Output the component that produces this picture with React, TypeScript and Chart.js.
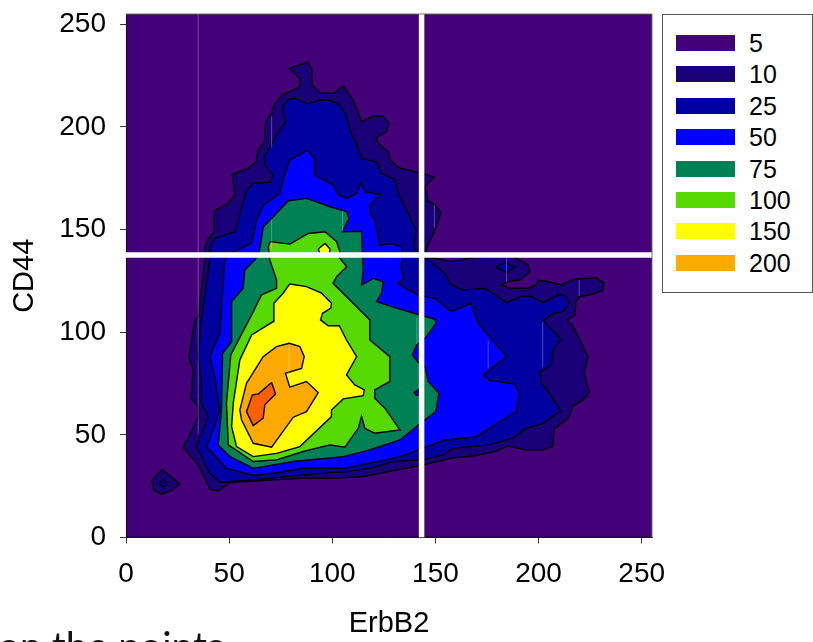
import React, { useEffect, useRef } from "react";
import { Chart, registerables } from "chart.js";

Chart.register(...registerables);

type P = [number, number];

const legendLevels = ["5", "10", "25", "50", "75", "100", "150", "200"];
const levelColors = ["#440078", "#1a0078", "#0000a0", "#0000ff", "#008055", "#55d900", "#ffff00", "#ffaa00"];
const peakColor = "#ff5f00";
const axisTicks = [0, 50, 100, 150, 200, 250];
const axisMax = 255;
const splitX = 143.3;
const splitY = 137.6;

const frame: P[] = [[0, 0], [axisMax, 0], [axisMax, axisMax], [0, axisMax]];

const contour10: P[] = [
  [79.2, 228.5], [88.1, 231.4], [90, 228.5], [90.3, 220.4], [94, 216.6], [100.5, 216.3], [105.3, 219.9], [110.2, 213.1],
  [114.2, 202.5], [119.9, 205.4], [124.7, 205.4], [127.5, 201.7], [126.3, 197.6], [121.5, 194.9], [122.3, 192], [127.1, 187.9],
  [128.3, 183.8], [132, 180.3], [141.7, 177.7], [149.4, 175.7], [144.9, 170.8], [146.5, 164.3], [149.8, 161.9], [152.7, 158.2],
  [149.8, 149.7], [145.4, 140], [145.4, 136.8], [157.8, 134.4], [169.1, 136.5], [188.5, 136.5], [195, 132.8], [195.8, 129.5],
  [191, 125.4], [184.5, 124.6], [182.1, 123], [186.1, 121.4], [195, 121.4], [199, 123], [199.8, 125.4], [204.7, 124.6],
  [211.2, 123], [216.8, 125.8], [228.1, 126.6], [231.7, 123.8], [231.3, 120.6], [226.5, 118.6], [220, 117.3], [218.1, 114.9],
  [217.6, 108.4], [214.1, 106], [216.8, 102.7], [224.1, 88.1], [222.1, 80], [224.6, 70.6], [221.7, 67], [216.8, 64.2],
  [214.4, 58.1], [207.6, 52.9], [206.8, 44.3], [202.3, 42.7], [193.4, 42.7], [185.3, 44.6], [178.8, 41.8], [168.3, 39.7],
  [157, 38.6], [153.8, 37.5], [144.1, 35.4], [115, 29.7], [102.1, 28.9], [85.9, 28.9], [66.5, 27.7], [50.4, 26.8],
  [44.7, 22.7], [40.7, 23.5], [35, 35.4], [27.7, 44], [32.6, 53.2], [35, 58.9], [35, 63.8], [31.5, 67.8],
  [32.6, 81.6], [30.5, 88.1], [33.4, 106], [35, 107.6], [38.2, 135.2], [38.3, 141.6], [39.9, 145.7], [42.8, 149],
  [42.8, 159.2], [49.1, 162.4], [52.8, 166.8], [51.5, 176.9], [59.3, 179.8], [63, 183], [64.1, 188.7], [67.1, 192.8],
  [67.7, 202.5], [70.6, 206.6], [72.2, 211.4], [75.5, 215.5], [81.1, 217.9], [84, 219.5], [84.3, 223.6],
];
const blob10: P[] = [[12.7, 28], [17.6, 33.2], [26.1, 26.1], [22.1, 22.9], [17.2, 21.1], [13.5, 23.2]];

const contour25: P[] = [
  [76.3, 210.6], [78.7, 213.5], [81.9, 213.9], [87.9, 211.1], [94, 213], [98.9, 213], [103.7, 210.6], [107, 205],
  [109.1, 196.8], [111.8, 192], [114.2, 184.6], [121.5, 183], [123.9, 177.3], [130.4, 174.4], [132, 167.6], [136.8, 157.9],
  [140.6, 149.7], [139.6, 141.6], [142, 138], [145.4, 136], [153.8, 129.5], [157.8, 123], [163.5, 120.6], [174, 121.4],
  [184.5, 114.4], [192.6, 117.7], [196.6, 117.3], [202.3, 114.4], [210.3, 118.6], [213.6, 117.3], [214.7, 114.1], [212, 110],
  [207.1, 109.2], [202.3, 105.6], [210.8, 96.7], [207.1, 91.4], [206.3, 84], [200.7, 80.8], [201.5, 75.1], [203.9, 72.2],
  [210.8, 61.7], [202.3, 55.6], [193.4, 52.9], [188.5, 48.8], [176.4, 45.1], [158.6, 43.5], [153.8, 40.2], [144.1, 37.8],
  [129.5, 37], [118.2, 33.7], [106.9, 32.1], [85.9, 30.5], [61.7, 28], [45.5, 26.9], [40.7, 31.3], [34.2, 44.3],
  [39.9, 58.9], [36.6, 65.4], [36.6, 75.1], [35, 88.1], [36.6, 107.6], [40.7, 135.2], [40.7, 141.6], [43.1, 145.7],
  [52.8, 148.9], [55.3, 157.9], [58.5, 169.2], [61.7, 172.5], [69.8, 173], [71.4, 176.5], [67.4, 181.4], [67.1, 185.4],
  [74.6, 198.4], [77.4, 202.5], [75.9, 207.4],
];
const blob25Left: P[] = [[16.1, 26.4], [18.1, 28.4], [20.2, 26.1], [18.1, 24.5]];
const blob25Right: P[] = [[179.3, 131.6], [183.7, 133.9], [188.5, 131.6], [184.5, 129]];

const contour50: P[] = [
  [77.1, 177.3], [79.5, 183.8], [87.9, 188.7], [91.3, 184.6], [91.6, 176.5], [100.5, 171.7], [102.9, 166.8], [107, 165.2],
  [111.8, 167.6], [113.9, 172.8], [115.8, 168.4], [123.1, 167.1], [118.3, 161.9], [118.3, 157.9], [120.7, 154.6], [123.1, 142.4],
  [128.8, 143.2], [133.6, 141.6], [134.4, 136.8], [133.3, 131.9], [134.4, 126.2], [131.9, 123.8], [136.8, 120.6], [142.5, 117.7],
  [149.8, 116.5], [157.8, 110], [167.2, 114.1], [170.8, 104.3], [184.5, 88.1], [173.2, 79.2], [176.4, 76.4], [188.5, 74.8],
  [190.6, 70.3], [189.3, 61.3], [181.3, 56.5], [170, 49.1], [154.6, 47.5], [144.1, 43.5], [132.8, 39.4], [118.2, 36.2],
  [105.3, 33.7], [85.9, 33.7], [71.4, 31.3], [61.7, 30.2], [48.7, 33.7], [39.1, 44.3], [42.3, 52.4], [45.5, 62.1],
  [43.1, 78.4], [40.7, 88.1], [45.5, 99.5], [47.1, 123.8], [47.9, 135.2], [52, 139.2], [60.9, 143.2], [63.3, 154.6],
  [66.6, 161.9], [74.6, 167.6],
];
const hole50: P[] = [[139.6, 70.7], [141.7, 71.9], [142.5, 69.1], [140.6, 69.4]];

const contour75: P[] = [
  [78.7, 164], [87.6, 165.2], [98.9, 161.1], [107, 158.7], [108.1, 155.4], [104.9, 148.9], [114.2, 149.2], [115, 130.3],
  [114.2, 123], [119.9, 126.2], [124.7, 124.6], [123.9, 119], [121.4, 114.9], [131.1, 111.7], [142.4, 108.4], [149.8, 106.3],
  [150.2, 104.3], [145, 97], [140.9, 93.8], [138.8, 88.9], [141.7, 85.2], [144.9, 83.2], [146.5, 76], [151.7, 70.3],
  [150.2, 61.3], [144.9, 57.3], [132.8, 47.5], [118.2, 42.7], [105.3, 39.4], [81.1, 37], [61.7, 33.7], [50.4, 39.4],
  [44.7, 45.1], [46.3, 62.1], [46.8, 89.7], [51.2, 95.4], [51.2, 114.9], [56.8, 121.4], [57.6, 130.3], [62.5, 135.2],
  [64.6, 139.2], [66.6, 151.4], [70.6, 155.4],
];

const contour100: P[] = [
  [69.8, 144.1], [79.5, 142.9], [88.4, 148.1], [96.5, 148.9], [102.1, 144.1], [103.7, 139.2], [103.7, 136], [107, 131.9],
  [102.1, 127], [100.4, 123.8], [118.2, 106], [118.2, 96.2], [127.9, 88.1], [127.9, 76], [120.6, 71.9], [120.6, 67.8],
  [125.5, 63], [132.8, 52.4], [120.6, 50.8], [115.8, 53.2], [114.2, 58.9], [112.6, 53.2], [106.1, 44], [98.8, 45.1],
  [85.9, 41.9], [73, 37.8], [61.7, 37], [49.6, 45.1], [48.7, 65.4], [50.8, 88.9], [60.9, 108.4], [65.7, 118.2],
  [73, 121.4], [73, 125.5], [69.7, 135.2], [69, 141.6],
];
const blob150: P[] = [[93.2, 140.5], [96.5, 143.2], [98.9, 140.5], [98.6, 138], [94, 138.4]];

const contour150: P[] = [
  [79.4, 123.5], [87.5, 122.2], [94.8, 119], [99.6, 114.1], [99.3, 111.7], [95.3, 109.2], [94.3, 106], [98, 103.1],
  [103.4, 103.2], [106.9, 96.2], [111.8, 88.1], [106.9, 79.2], [110.9, 74.3], [115.5, 71.9], [115, 69.1], [105.3, 67.5],
  [99.6, 62.1], [99.6, 58.9], [84.3, 44.3], [73, 41], [61.7, 39.4], [53.6, 44.3], [51.2, 54], [52, 65.4],
  [55.2, 86.5], [60.9, 98.7], [71.4, 105.2], [71.7, 114.1], [76.2, 119],
];

const contour200: P[] = [
  [79.1, 94.6], [84.3, 93], [86.4, 88.1], [85.1, 82.4], [77.3, 80], [79.4, 73.2], [87.5, 76], [93.2, 70.6],
  [87.5, 61.3], [81.1, 58.6], [70.6, 44], [61.7, 45.9], [56, 57.3], [55.2, 62.1], [58.4, 75.1], [66.5, 88.1], [73, 93],
];

const contourPeak: P[] = [
  [70.6, 75.5], [72.5, 69.9], [67.3, 64.6], [66.5, 58.1], [61.7, 54.5], [58.4, 61.3], [61.3, 69.5], [64.1, 69.9],
];

// x, lower y, upper y of the faint vertical streaks in the reference
const streaks: [number, number, number][] = [
  [35, 50.5, 255], [175.6, 82.5, 96], [202, 83, 105], [219.7, 117.5, 125.5], [184.5, 124.5, 136],
  [70.6, 190, 205], [70.6, 140, 155], [105, 149, 159], [149.5, 151, 162], [79, 80, 94], [96.5, 112, 119], [141, 94, 107],
];

const layers: [P[], string][] = [
  [frame, levelColors[0]],
  [contour10, levelColors[1]],
  [blob10, levelColors[1]],
  [contour25, levelColors[2]],
  [blob25Left, levelColors[2]],
  [blob25Right, levelColors[2]],
  [contour50, levelColors[3]],
  [contour75, levelColors[4]],
  [hole50, levelColors[3]],
  [contour100, levelColors[5]],
  [blob150, levelColors[6]],
  [contour150, levelColors[6]],
  [contour200, levelColors[7]],
  [contourPeak, peakColor],
];

const FONT = "'Liberation Sans', Arial, sans-serif";

export default function App() {
  const ref = useRef<HTMLCanvasElement>(null);
  useEffect(() => {
    const toPts = (ps: P[]) => [...ps, ps[0]].map(([x, y]) => ({ x, y }));
    const datasets: any[] = layers.map(([ps, color]) => ({
      data: toPts(ps),
      showLine: true,
      fill: "shape",
      backgroundColor: color,
      borderColor: "#000",
      borderWidth: 1.4,
      pointRadius: 0,
      tension: 0,
    }));
    streaks.forEach(([x, lo, hi]) =>
      datasets.push({
        data: [{ x, y: lo }, { x, y: hi }],
        showLine: true,
        fill: false,
        borderColor: "rgba(255,255,255,0.28)",
        borderWidth: 1,
        pointRadius: 0,
      })
    );
    datasets.push({
      data: [{ x: splitX, y: 0 }, { x: splitX, y: axisMax }],
      showLine: true, fill: false, borderColor: "#ffffff", borderWidth: 5.5, pointRadius: 0,
    });
    datasets.push({
      data: [{ x: 0, y: splitY }, { x: axisMax, y: splitY }],
      showLine: true, fill: false, borderColor: "#ffffff", borderWidth: 5.5, pointRadius: 0,
    });
    datasets.forEach((d, i) => (d.order = -i));

    const tickOpts = {
      stepSize: 50,
      includeBounds: false,
      autoSkip: false,
      maxRotation: 0,
      color: "#000",
      font: { family: FONT, size: 28 },
      callback: (v: any) => (axisTicks.includes(v) ? String(v) : ""),
    };
    const gridOpts = { drawOnChartArea: false, drawTicks: true, tickLength: 6, tickColor: "#333", tickWidth: 1 };

    const chart = new Chart(ref.current!, {
      type: "scatter",
      data: { datasets },
      plugins: [
        {
          id: "frameBox",
          afterDraw(c: any) {
            const { left, top, right, bottom } = c.chartArea;
            const ctx = c.ctx;
            ctx.save();
            ctx.strokeStyle = "#777";
            ctx.lineWidth = 1;
            ctx.beginPath();
            ctx.moveTo(left, top);
            ctx.lineTo(right, top);
            ctx.lineTo(right, bottom);
            ctx.stroke();
            ctx.restore();
          },
        },
      ],
      options: {
        responsive: false,
        animation: false,
        events: [],
        layout: { padding: { top: 14, right: 161, left: 0, bottom: 0 } },
        plugins: { legend: { display: false }, tooltip: { enabled: false } },
        scales: {
          x: {
            type: "linear",
            min: 0,
            max: axisMax,
            ticks: { ...tickOpts, padding: 14 },
            grid: gridOpts,
            border: { color: "#333", width: 1 },
            title: {
              display: true,
              text: "ErbB2",
              color: "#000",
              font: { family: FONT, size: 29 },
              padding: { top: 1, bottom: 1 },
            },
            afterFit(s: any) { s.height = 104.5; s.paddingLeft = 0; s.paddingRight = 0; },
          },
          y: {
            type: "linear",
            min: 0,
            max: axisMax,
            ticks: { ...tickOpts, padding: 14 },
            grid: gridOpts,
            border: { color: "#333", width: 1 },
            title: {
              display: true,
              text: "CD44",
              color: "#000",
              font: { family: FONT, size: 29 },
              padding: { top: 8, bottom: 1 },
            },
            afterFit(s: any) { s.width = 126; s.paddingTop = 0; s.paddingBottom = 0; },
          },
        },
      } as any,
    } as any);
    return () => chart.destroy();
  }, []);

  return (
    <div style={{ position: "absolute", left: 0, top: 0, width: 813, height: 642, overflow: "hidden", background: "#fff" }}>
      <canvas ref={ref} width={813} height={642} style={{ display: "block" }} />
      <div
        style={{
          position: "absolute", left: 662, top: 14, width: 149, height: 277,
          border: "1.5px solid #555", background: "#fff", fontFamily: FONT, fontSize: 25, color: "#000",
        }}
      >
        {legendLevels.map((label, i) => (
          <React.Fragment key={label}>
            <div style={{ position: "absolute", left: 13, top: 20 + i * 31.4, width: 59, height: 16, background: levelColors[i] }} />
            <div style={{ position: "absolute", left: 86, top: 13 + i * 31.4, lineHeight: "30px" }}>{label}</div>
          </React.Fragment>
        ))}
      </div>
      <div
        style={{
          position: "absolute", left: -2, top: 623, fontFamily: "Lato, sans-serif", fontSize: 39,
          lineHeight: "44px", color: "#111", whiteSpace: "nowrap",
        }}
      >
        on the points
      </div>
    </div>
  );
}
